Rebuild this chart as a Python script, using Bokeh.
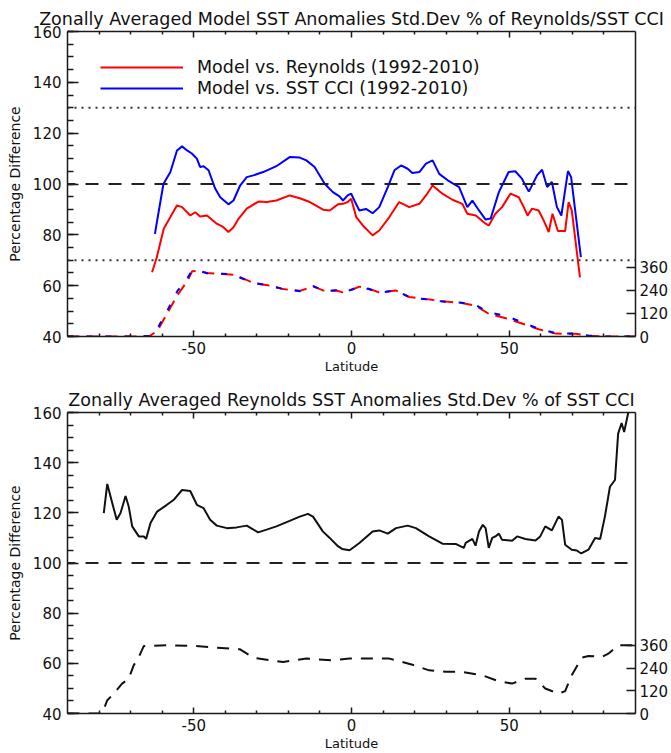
import numpy as np
from bokeh.plotting import figure
from bokeh.models import Range1d, LinearAxis, FixedTicker, Span, Legend, LegendItem
from bokeh.layouts import column
from bokeh.embed import file_html
from bokeh.resources import INLINE

FONT = "DejaVu Sans"

# ---- texts -------------------------------------------------------------
top_title = "Zonally Averaged Model SST Anomalies Std.Dev % of Reynolds/SST CCI"
bottom_title = "Zonally Averaged Reynolds SST Anomalies Std.Dev % of SST CCI"
y_label = "Percentage Difference"
x_label = "Latitude"
label_reynolds = "Model vs. Reynolds (1992-2010)"
label_cci = "Model vs. SST CCI (1992-2010)"

# ---- ticks -------------------------------------------------------------
x_ticks = [-50, 0, 50]
x_tick_labels = ["-50", "0", "50"]
x_minor = [-80, -70, -60, -40, -30, -20, -10, 10, 20, 30, 40, 60, 70, 80]
y_ticks = [40, 60, 80, 100, 120, 140, 160]
y_minor = list(range(40, 161, 5))
count_ticks = [0, 120, 240, 360]

# reference levels (percent)
ref_dashed = [100]
ref_dotted = [70, 130]

# ---- top panel: model / observation std.dev ratio ------------------------
lat_cci = [-62.3, -60.5, -59.6, -57.4, -55.3, -53.7, -52.1, -50.6, -49.0, -48.0,
           -46.9, -45.3, -43.2, -41.6, -39.0, -37.4, -35.3, -33.2, -31.1, -28.0,
           -23.8, -19.6, -16.4, -14.3, -11.7, -8.5, -5.9, -3.8, -2.7, -1.2,
           -0.1, 0.9, 2.5, 4.6, 6.7, 8.8, 11.5, 13.6, 15.7, 17.8,
           19.3, 21.5, 23.6, 25.7, 27.8, 30.9, 34.1, 36.7, 38.3, 40.4,
           42.5, 44.1, 46.7, 49.8, 51.9, 54.0, 56.2, 58.8, 60.4, 62.0,
           63.5, 65.1, 66.5, 68.6, 69.6, 72.7]
pct_cci = [80.4, 93.5, 100.0, 104.7, 113.2, 114.8, 113.2, 112.0, 110.0, 106.7,
           107.0, 105.4, 98.2, 94.8, 92.0, 93.5, 99.4, 102.7, 103.4, 104.7,
           107.0, 110.6, 110.4, 109.3, 106.7, 100.1, 96.8, 95.1, 93.5, 95.5,
           96.2, 93.5, 89.6, 90.2, 88.5, 90.9, 98.8, 105.4, 107.3, 106.0,
           104.3, 104.7, 108.0, 109.3, 104.0, 101.1, 98.8, 90.9, 93.5, 89.6,
           86.0, 86.4, 96.8, 104.7, 105.0, 102.1, 97.0, 103.4, 105.6, 98.8,
           100.8, 90.9, 87.6, 105.1, 102.7, 71.2]

lat_rey = [-63.2, -61.7, -59.5, -57.4, -55.3, -53.7, -51.1, -49.5, -48.0, -45.8,
           -42.7, -40.6, -39.0, -37.4, -35.8, -33.2, -29.5, -26.9, -23.8, -19.6,
           -16.4, -13.2, -9.0, -6.9, -4.3, -2.7, -1.2, -0.1, 1.5, 3.6,
           6.7, 8.8, 12.0, 15.1, 18.3, 21.5, 23.6, 25.7, 28.8, 32.0,
           35.1, 36.7, 39.4, 42.5, 43.5, 45.6, 47.7, 50.4, 53.0, 54.6,
           55.8, 57.2, 59.3, 60.9, 62.5, 63.7, 65.4, 67.7, 68.8, 69.8,
           72.4]
pct_rey = [65.3, 71.2, 82.4, 87.0, 91.6, 90.9, 87.6, 88.9, 87.2, 87.6,
           84.4, 83.0, 81.1, 83.0, 86.3, 90.3, 93.1, 92.9, 93.5, 95.5,
           94.4, 92.9, 89.9, 89.6, 92.0, 92.2, 92.9, 94.2, 87.0, 83.7,
           79.8, 81.7, 87.0, 92.9, 90.9, 92.2, 95.5, 99.4, 96.2, 93.8,
           92.2, 88.3, 87.6, 84.4, 83.7, 88.3, 90.9, 96.2, 94.8, 90.9,
           87.6, 90.3, 89.6, 85.7, 81.1, 88.3, 81.5, 81.5, 92.9, 89.6,
           63.3]

# ocean points per latitude band (right axis)
lat_cnt_top = [-90, -80, -70, -64, -61.5, -58.4, -55.2, -52.0, -50.5, -48.0,
               -45.8, -41.0, -37.5, -34.0, -31.0, -26.0, -21.7, -16.4, -12.0, -8.5,
               -4.8, -2.8, 0.3, 2.5, 5.7, 8.8, 14.0, 18.3, 23.6, 30.0,
               35.0, 39.4, 43.5, 48.9, 54.0, 59.3, 64.7, 71.0, 75.0, 80.0,
               90]
cnt_cci = [0, 0, 0, 2, 41, 134, 236, 305, 344, 340,
           330, 327, 323, 298, 279, 265, 248, 236, 262, 236,
           241, 228, 246, 262, 246, 228, 241, 205, 194, 180,
           176, 164, 125, 108, 74, 41, 17, 15, 5, 0,
           0]
cnt_rey = [0, 0, 0, 2, 30, 120, 215, 290, 340, 342,
           331, 326, 322, 300, 278, 266, 247, 238, 260, 237,
           240, 230, 245, 260, 248, 229, 240, 206, 195, 182,
           175, 160, 118, 95, 68, 38, 15, 14, 4, 0,
           0]

# ---- bottom panel: Reynolds / SST CCI std.dev ratio -----------------------
lat_obs = [-78.5, -77.4, -75.8, -74.4, -73.2, -71.6, -70.6, -69.5, -67.4, -65.8,
           -65.1, -63.7, -61.6, -58.5, -56.4, -53.7, -51.1, -49.0, -46.9, -44.8,
           -42.7, -39.5, -36.4, -33.2, -29.6, -26.9, -23.8, -19.6, -16.4, -13.8,
           -12.2, -9.1, -6.9, -4.3, -3.0, -0.6, 2.5, 6.7, 8.8, 11.5,
           14.1, 17.8, 20.4, 24.6, 28.8, 33.0, 35.6, 36.2, 38.3, 39.3,
           40.4, 41.6, 42.5, 43.5, 44.6, 45.6, 46.7, 47.7, 50.9, 52.5,
           55.1, 58.3, 59.8, 61.4, 63.5, 65.6, 66.7, 67.7, 69.8, 71.4,
           72.8, 75.1, 77.2, 78.8, 80.3, 81.9, 83.5, 84.5, 85.6, 86.4,
           87.7, 88.4]
pct_obs = [119.9, 131.5, 123.8, 117.2, 119.9, 126.7, 122.5, 114.6, 110.6, 110.6,
           109.6, 115.9, 120.5, 123.2, 125.1, 129.1, 128.7, 123.2, 121.9, 117.2,
           114.9, 113.9, 114.2, 114.9, 112.2, 113.3, 114.6, 116.8, 118.5, 119.6,
           118.5, 112.6, 110.0, 106.7, 105.6, 105.1, 108.0, 112.6, 113.0, 111.7,
           113.9, 114.9, 113.9, 110.6, 107.7, 107.6, 106.0, 108.0, 109.6, 106.9,
           112.6, 115.2, 113.9, 106.0, 110.0, 110.6, 111.7, 109.3, 108.9, 110.6,
           109.6, 109.0, 110.6, 114.6, 113.0, 118.5, 117.2, 107.3, 105.3, 105.0,
           103.8, 105.3, 110.0, 109.6, 118.5, 130.4, 133.1, 151.6, 155.8, 152.2,
           159.9, 164.0]

lat_cnt_bot = [-90, -79, -77.4, -75.3, -72.7, -70.6, -69.0, -67.4, -65.8, -58.5,
               -50.0, -42.7, -35.3, -31.1, -21.7, -14.3, -5.9, -0.6, 5.7, 12.0,
               19.3, 24.6, 29.9, 35.1, 41.4, 46.7, 50.9, 55.1, 58.3, 61.4,
               65.6, 67.7, 69.8, 73.0, 75.1, 79.3, 81.4, 84.5, 90]
cnt_obs = [0, 0, 70, 105, 158, 184, 255, 299, 357, 360,
           357, 348, 339, 294, 272, 290, 281, 290, 290, 290,
           258, 228, 220, 220, 202, 170, 158, 184, 184, 132,
           105, 118, 202, 295, 304, 299, 316, 360, 360]

COUNT_MAX = 1590  # right-axis extent matching the 40-160 % range
RED = "#ff0000"
BLUE = "#0000ff"
INK = "#111111"


def style_axis(ax, tick_in, minor_in):
    ax.axis_line_color = "#1a1a1a"
    ax.axis_line_width = 1.5
    ax.major_tick_line_color = "#1a1a1a"
    ax.major_tick_line_width = 1.5
    ax.minor_tick_line_color = "#1a1a1a"
    ax.minor_tick_line_width = 1.5
    ax.major_tick_in = tick_in
    ax.major_tick_out = 0
    ax.minor_tick_in = minor_in
    ax.minor_tick_out = 0
    ax.major_label_text_font = FONT
    ax.major_label_text_font_size = "15px"
    ax.major_label_text_color = INK
    ax.axis_label_text_font = FONT
    ax.axis_label_text_font_size = "14px"
    ax.axis_label_text_font_style = "normal"
    ax.axis_label_text_color = INK


def make_panel(title, height, border_top, border_bottom, dotted):
    p = figure(width=671, height=height, title=title,
               x_range=Range1d(-90, 90), y_range=Range1d(40, 160),
               x_axis_location=None, y_axis_location=None,
               output_backend="svg", toolbar_location=None,
               min_border_left=67, min_border_right=34,
               min_border_top=border_top, min_border_bottom=border_bottom)
    p.extra_y_ranges = {"count": Range1d(0, COUNT_MAX)}
    p.grid.visible = False
    p.outline_line_color = None
    p.background_fill_color = "white"
    p.border_fill_color = "white"

    p.title.align = "center"
    p.title.text_font = FONT
    p.title.text_font_size = "17.5px"
    p.title.text_font_style = "normal"
    p.title.text_color = INK
    p.title.standoff = 6

    xt = FixedTicker(ticks=x_ticks, minor_ticks=x_minor)
    bottom = LinearAxis(ticker=xt, axis_label=x_label,
                        major_label_overrides=dict(zip(x_ticks, x_tick_labels)))
    style_axis(bottom, 6, 3)
    bottom.axis_label_text_font_size = "13px"
    bottom.major_label_standoff = 5
    bottom.axis_label_standoff = 2
    p.add_layout(bottom, "below")

    # mirrored tick marks along the top edge, without labels
    top = LinearAxis(ticker=xt)
    style_axis(top, 6, 3)
    top.major_label_text_color = None
    top.major_label_text_font_size = "1px"
    top.major_label_standoff = 0
    p.add_layout(top, "above")

    left = LinearAxis(ticker=FixedTicker(ticks=y_ticks, minor_ticks=y_minor),
                      axis_label=y_label)
    style_axis(left, 11, 6)
    left.major_label_standoff = 6
    left.axis_label_standoff = 7
    p.add_layout(left, "left")

    right = LinearAxis(y_range_name="count",
                       ticker=FixedTicker(ticks=count_ticks, minor_ticks=[]))
    style_axis(right, 9, 0)
    right.major_label_standoff = 4
    p.add_layout(right, "right")

    if dotted:
        for lvl in ref_dotted:
            p.add_layout(Span(location=lvl, dimension="width", line_color="#333333",
                              line_width=2, line_dash="2 5"))
    for lvl in ref_dashed:
        p.add_layout(Span(location=lvl, dimension="width", line_color="#222222",
                          line_width=2, line_dash="13 10", line_dash_offset=5))
    return p


# ---- top panel ------------------------------------------------------------
p1 = make_panel(top_title, 378, 31, 42, dotted=True)
p1.line(lat_cnt_top, cnt_rey, y_range_name="count", line_color=RED,
        line_width=2, line_dash="12 7")
p1.line(lat_cnt_top, cnt_cci, y_range_name="count", line_color=BLUE,
        line_width=2, line_dash="6 13")
r_rey = p1.line(lat_rey, pct_rey, line_color=RED, line_width=2)
r_cci = p1.line(lat_cci, pct_cci, line_color=BLUE, line_width=2)

legend = Legend(items=[LegendItem(label=label_reynolds, renderers=[r_rey]),
                       LegendItem(label=label_cci, renderers=[r_cci])],
                location=(33, 238), orientation="vertical",
                padding=0, margin=0, spacing=1,
                glyph_width=83, glyph_height=20, label_height=20,
                label_standoff=14, label_text_font=FONT,
                label_text_font_size="17.5px", label_text_color=INK,
                border_line_color=None, background_fill_alpha=0)
p1.add_layout(legend)

# ---- bottom panel ---------------------------------------------------------
p2 = make_panel(bottom_title, 375, 34, 38, dotted=False)
p2.line(lat_cnt_bot, cnt_obs, y_range_name="count", line_color=INK,
        line_width=2, line_dash="12 9")
p2.line(lat_obs, pct_obs, line_color=INK, line_width=2)

layout = column(p1, p2, spacing=0)
open("out.html", "w").write(file_html(layout, INLINE))
